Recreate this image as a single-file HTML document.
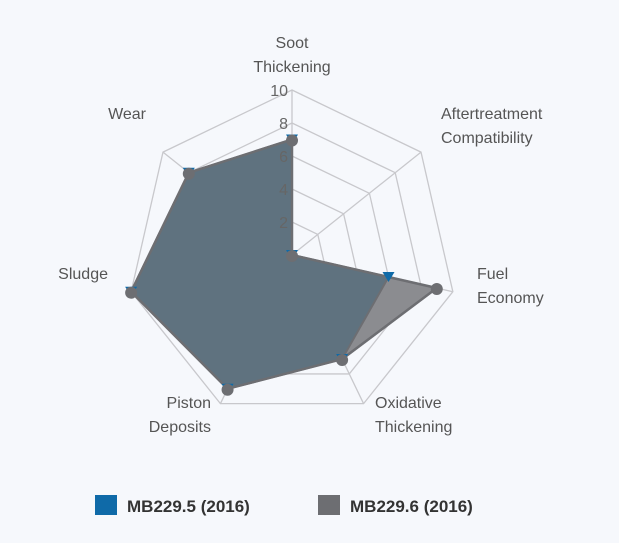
<!DOCTYPE html>
<html><head><meta charset="utf-8"><style>
html,body{margin:0;padding:0;background:#f6f8fc;}
svg{display:block;font-family:"Liberation Sans",sans-serif;}
</style></head><body>
<svg id="c" width="619" height="543" viewBox="0 0 619 543">
<rect width="619" height="543" fill="#f6f8fc"/>
<g id="grid"></g>
<g id="series"></g>
<g id="labels"></g>
<g>
<rect x="95" y="495" width="22" height="20" fill="#0f6aa8"/>
<text x="127" y="512" font-size="17" font-weight="bold" fill="#333">MB229.5 (2016)</text>
<rect x="318" y="495" width="22" height="20" fill="#6d6e72"/>
<text x="350" y="512" font-size="17" font-weight="bold" fill="#333">MB229.6 (2016)</text>
</g>
</svg>
<script>
const categories=[["Soot","Thickening"],["Aftertreatment","Compatibility"],["Fuel","Economy"],["Oxidative","Thickening"],["Piston","Deposits"],["Sludge"],["Wear"]];
const mb2295=[7,0,6,7,9,10,8];
const mb2296=[7,0,9,7,9,10,8];
const tickLabels=[2,4,6,8,10];
const maxVal=10;
const cx=292,cy=255,R=165,NS="http://www.w3.org/2000/svg";
function ang(i){return -Math.PI/2+i*2*Math.PI/categories.length;}
function pt(i,v){const r=v/maxVal*R,a=ang(i);return [cx+r*Math.cos(a),cy+r*Math.sin(a)];}
function mk(tag,attrs,parent){const e=document.createElementNS(NS,tag);for(const k in attrs)e.setAttribute(k,attrs[k]);parent.appendChild(e);return e;}
const grid=document.getElementById('grid'),ser=document.getElementById('series'),lab=document.getElementById('labels');
tickLabels.forEach(t=>{
 const p=mk('polygon',{points:categories.map((c,i)=>pt(i,t).join(',')).join(' '),fill:'none',stroke:'#c8c8cc','stroke-width':1.3},grid);
 
 
});
categories.forEach((c,i)=>{
 const e=pt(i,maxVal);
 const l=mk('line',{x1:cx,y1:cy,x2:e[0],y2:e[1],stroke:'#c8c8cc','stroke-width':1.3},grid);
 
 
});
function poly(data,fill,name){
 const p=mk('polygon',{points:data.map((v,i)=>pt(i,v).join(',')).join(' '),fill:fill,stroke:'#6d6e72','stroke-width':2,'stroke-linejoin':'round'},ser);
 
 
}
poly(mb2296,'#8b8c90','area-mb2296');
poly(mb2295,'#5f727f','area-mb2295');
mk('polygon',{points:mb2296.map((v,i)=>pt(i,v).join(',')).join(' '),fill:'none',stroke:'#6d6e72','stroke-width':2.5},ser);
mb2295.forEach((v,i)=>{
 const [x,y]=pt(i,v);
 const t=mk('polygon',{points:`${x-6},${y-5} ${x+6},${y-5} ${x},${y+5}`,fill:'#0f6aa8'},ser);
 
 
});
mb2296.forEach((v,i)=>{
 const [x,y]=pt(i,v);
 const c=mk('circle',{cx:x,cy:y+1,r:6,fill:'#6d6e72'},ser);
 
 
});
tickLabels.forEach(t=>{
 const [x,y]=pt(0,t);
 const e=mk('text',{x:x-4,y:y+6,'font-size':16,fill:'#666','text-anchor':'end'},lab);
 e.textContent=t;
 
 
});
const lpos=[[292,48,'middle'],[441,119,'start'],[477,279,'start'],[375,408,'start'],[211,408,'end'],[108,279,'end'],[146,119,'end']];
categories.forEach((c,i)=>{
 const [x,y,anc]=lpos[i];
 const e=mk('text',{x:x,y:y,'font-size':16,fill:'#555','text-anchor':anc},lab);
 
 
 c.forEach((s,j)=>{const ts=mk('tspan',{x:x,dy:j?24:0},e);ts.textContent=s;});
});
</script>
</body></html>
